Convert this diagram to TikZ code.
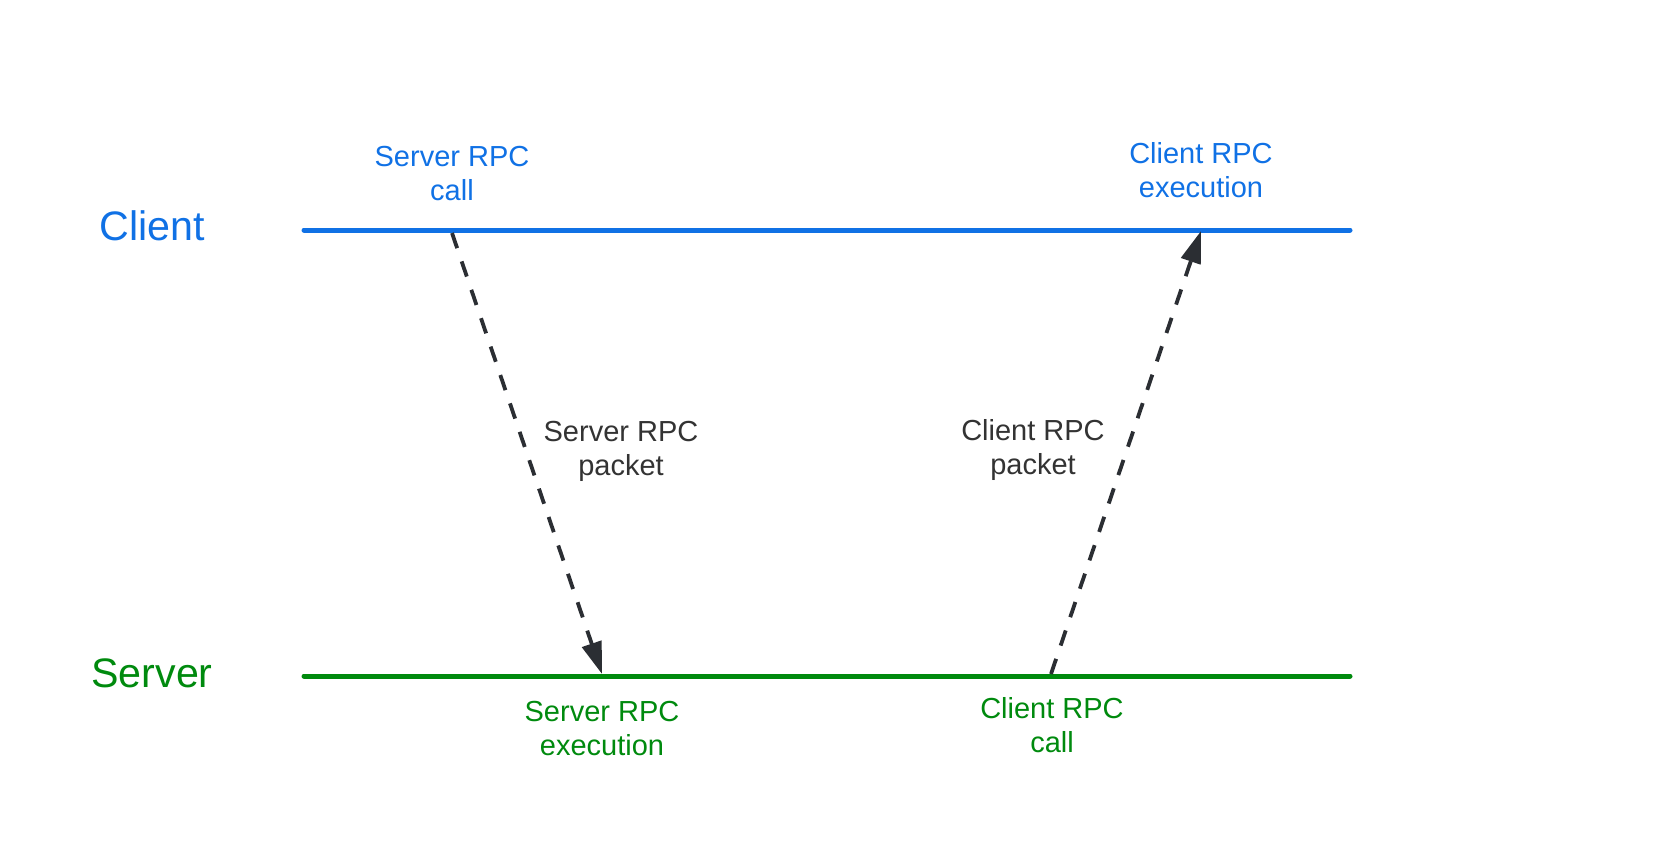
\documentclass[tikz,border=0pt]{standalone}
\usepackage{fontspec}
\setmainfont{Liberation Sans}
\usetikzlibrary{arrows.meta}
\definecolor{cblue}{HTML}{1071E5}
\definecolor{cgreen}{HTML}{008A0E}
\definecolor{cdark}{HTML}{2B2E33}
\definecolor{ctext}{HTML}{333333}
\tikzset{
  timeline/.style={line width=2.5pt, line cap=round},
  msg/.style={cdark, line width=1.9pt, dash pattern=on 8pt off 7pt, -{Triangle[length=16pt,width=10pt]}},
  lbl/.style={align=center, font=\fontsize{14.5}{17}\selectfont, inner sep=0pt},
  side/.style={font=\fontsize{20.6}{24}\selectfont, inner sep=0pt}
}
\begin{document}
\begin{tikzpicture}[x=0.5pt,y=-0.5pt]
\useasboundingbox (0,0) rectangle (1656,868);
% timelines
\coordinate (cl) at (304,230);
\coordinate (cr) at (1350,230);
\coordinate (sl) at (304,676);
\coordinate (sr) at (1350,676);
\draw[timeline, cblue] (cl) -- (cr);
\draw[timeline, cgreen] (sl) -- (sr);
% side labels
\node[side, text=cblue] (client) at (152,226) {Client};
\node[side, text=cgreen] (server) at (152,673) {Server};
% event labels
\node[lbl, text=cblue] (src) at (452,174) {Server RPC\\call};
\node[lbl, text=cblue] (cre) at (1201,170) {Client RPC\\execution};
\node[lbl, text=cgreen] (sre) at (602,729) {Server RPC\\execution};
\node[lbl, text=cgreen] (crc) at (1052,725) {Client RPC\\call};
\node[lbl, text=ctext] (srp) at (621,451) {Server RPC\\packet};
\node[lbl, text=ctext] (crp) at (1033,450) {Client RPC\\packet};
% message arrows
\coordinate (a1s) at (452,233);
\coordinate (a1e) at (602,674);
\coordinate (a2s) at (1051,674);
\coordinate (a2e) at (1201,231);
\draw[msg] (a1s) -- (a1e);
\draw[msg] (a2s) -- (a2e);
\end{tikzpicture}
\end{document}
